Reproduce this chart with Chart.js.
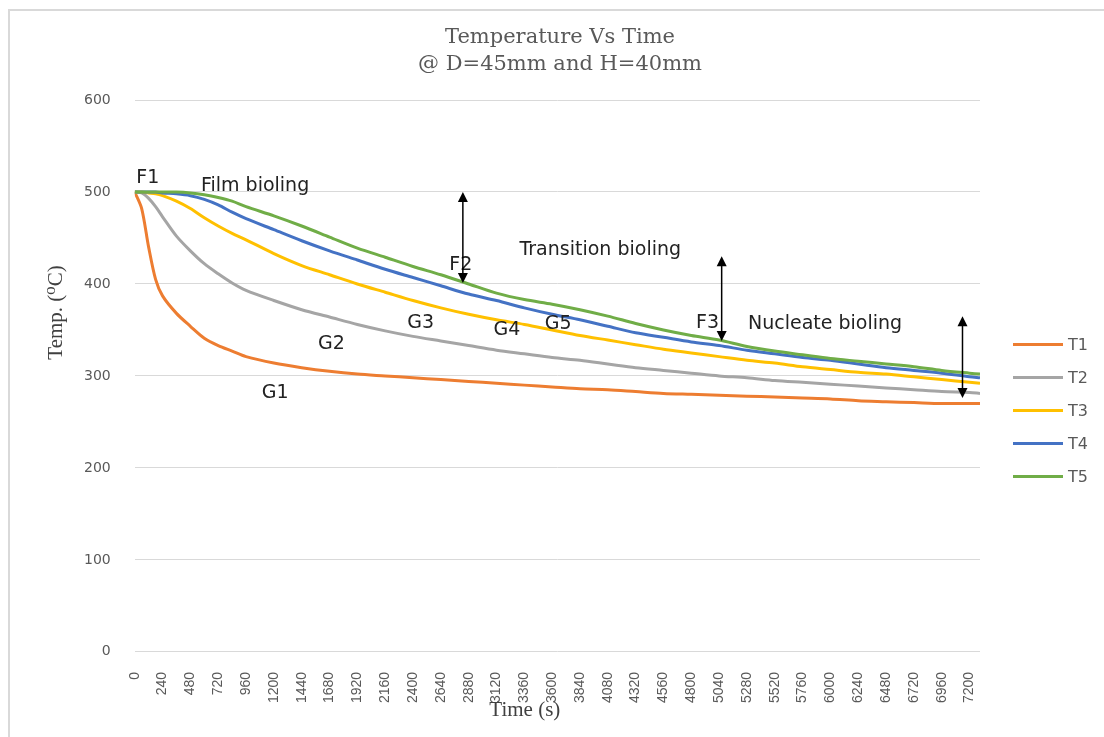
<!DOCTYPE html>
<html>
<head>
<meta charset="utf-8">
<title>Temperature Vs Time</title>
<script src="https://cdn.jsdelivr.net/npm/chart.js@4.4.1/dist/chart.umd.min.js"></script>
<style>
  html, body { margin: 0; padding: 0; background: #ffffff; }
  #wrap { position: relative; width: 1104px; height: 737px; }
  #legend-container { position: absolute; left: 1013px; top: 328px; }
</style>
</head>
<body>
<div id="wrap">
  <canvas id="chartCanvas"></canvas>
  <div id="legend-container"></div>
</div>
<script>
// tiempo (s) y temperaturas
const times = [0, 60, 120, 180, 240, 360, 480, 600, 720, 840, 960, 1200, 1440, 1680, 1920, 2160, 2400, 2640, 2880, 3120,
  3360, 3600, 3840, 4080, 4320, 4560, 4800, 5040, 5280, 5520, 5760, 6000, 6240, 6480, 6720, 6960, 7200, 7290];

const t1 = [500, 482, 440, 405, 387, 368, 354, 341, 333, 327, 321, 314, 309, 305, 302, 300, 298, 296, 294, 292,
  290, 288, 286, 285, 283, 281, 280, 279, 278, 277, 276, 275, 273, 272, 271, 270, 270, 270];
const t2 = [500, 499, 493, 484, 473, 452, 436, 422, 411, 401, 393, 382, 372, 364, 356, 349, 343, 338, 333, 328,
  324, 320, 317, 313, 309, 306, 303, 300, 298, 295, 293, 291, 289, 287, 285, 283, 282, 281];
const t3 = [500, 500, 499, 498, 496, 490, 482, 472, 463, 455, 448, 433, 420, 410, 400, 391, 382, 374, 367, 361,
  356, 350, 344, 339, 334, 329, 325, 321, 317, 314, 310, 307, 304, 302, 299, 296, 293, 292];
const t4 = [500, 500, 500, 500, 499, 498, 496, 492, 486, 478, 471, 459, 447, 436, 426, 416, 407, 398, 389, 382,
  374, 367, 361, 354, 347, 342, 337, 333, 328, 324, 320, 317, 313, 309, 306, 303, 299, 298];
const t5 = [500, 500, 500, 500, 500, 500, 499, 497, 494, 490, 484, 474, 463, 451, 439, 429, 419, 410, 400, 390,
  383, 378, 372, 365, 357, 350, 344, 339, 332, 327, 323, 319, 316, 313, 310, 306, 303, 302];

const seriesNames = ['T1', 'T2', 'T3', 'T4', 'T5'];
const seriesColors = ['#ED7D31', '#A5A5A5', '#FFC000', '#4472C4', '#70AD47'];

const titleLines = ['Temperature Vs Time', '@ D=45mm and H=40mm'];

// etiquetas de texto sobre el grafico (en unidades de datos: s, grados C)
const noteText = ['F1', 'Film bioling', 'F2', 'Transition bioling', 'G1', 'G2', 'G3', 'G4', 'G5', 'F3', 'Nucleate bioling'];
const noteTime = [112, 1038, 2812, 4015, 1211, 1696, 2466, 3210, 3652, 4941, 5954];
const noteTemp = [515, 506, 421, 437, 281, 335, 357, 350, 356, 357, 356];

// flechas dobles verticales
const arrowTime = [2830, 5062, 7139];
const arrowTop = [500, 430, 365];
const arrowBottom = [401, 338, 276];

const toPoints = (vals) => vals.map((v, i) => ({x: times[i], y: v}));

const datasets = [t1, t2, t3, t4, t5].map((vals, i) => ({
  label: seriesNames[i],
  data: toPoints(vals),
  borderColor: seriesColors[i],
  backgroundColor: seriesColors[i],
  borderWidth: 3,
  pointRadius: 0,
  tension: 0.3,
  fill: false,
  order: 5 - i, // T5 arriba como en Excel
}));

const getOrCreateLegendList = (chart, id) => {
  const legendContainer = document.getElementById(id);
  let listContainer = legendContainer.querySelector('ul');

  if (!listContainer) {
    listContainer = document.createElement('ul');
    listContainer.style.display = 'flex';
    listContainer.style.flexDirection = 'column';
    listContainer.style.listStyle = 'none';
    listContainer.style.margin = 0;
    listContainer.style.padding = 0;
    legendContainer.appendChild(listContainer);
  }
  return listContainer;
};

const htmlLegendPlugin = {
  id: 'htmlLegend',
  afterUpdate(chart, args, options) {
    const ul = getOrCreateLegendList(chart, options.containerID);

    while (ul.firstChild) {
      ul.firstChild.remove();
    }

    const items = chart.options.plugins.legend.labels.generateLabels(chart);
    items.sort((a, b) => a.datasetIndex - b.datasetIndex);

    items.forEach(item => {
      const li = document.createElement('li');
      li.style.alignItems = 'center';
      li.style.display = 'flex';
      li.style.flexDirection = 'row';
      li.style.height = '33px';

      // linea de color
      const boxSpan = document.createElement('span');
      boxSpan.style.background = item.strokeStyle;
      boxSpan.style.display = 'inline-block';
      boxSpan.style.flexShrink = 0;
      boxSpan.style.height = '3px';
      boxSpan.style.width = '50px';
      boxSpan.style.marginRight = '5px';

      const textContainer = document.createElement('p');
      textContainer.style.color = '#595959';
      textContainer.style.margin = 0;
      textContainer.style.padding = 0;
      textContainer.style.font = '16px "DejaVu Sans", sans-serif';
      textContainer.appendChild(document.createTextNode(item.text));

      li.appendChild(boxSpan);
      li.appendChild(textContainer);
      ul.appendChild(li);
    });
  }
};

const extrasPlugin = {
  id: 'extras',
  beforeDraw(chart) {
    const ctx = chart.ctx;
    ctx.save();
    ctx.fillStyle = '#ffffff';
    ctx.fillRect(0, 0, chart.width, chart.height);
    // marco del grafico
    ctx.strokeStyle = '#d9d9d9';
    ctx.lineWidth = 2;
    ctx.strokeRect(9, 10, chart.width + 10, chart.height + 10);

    // titulo (centrado como en la hoja original, no sobre el area)
    ctx.fillStyle = '#595959';
    ctx.font = '21px "DejaVu Serif", "Liberation Serif", serif';
    ctx.textAlign = 'center';
    ctx.textBaseline = 'middle';
    titleLines.forEach((line, i) => {
      ctx.fillText(line, chart.width / 2 + 8, 38 + i * 27);
    });
    ctx.restore();
  },
  afterDatasetsDraw(chart) {
    const ctx = chart.ctx;
    const xs = chart.scales.x;
    const ys = chart.scales.y;
    const area = chart.chartArea;
    ctx.save();

    // textos
    ctx.fillStyle = '#222222';
    ctx.font = '19px "DejaVu Sans", sans-serif';
    ctx.textAlign = 'center';
    ctx.textBaseline = 'middle';
    noteText.forEach((txt, i) => {
      ctx.fillText(txt, xs.getPixelForValue(noteTime[i]), ys.getPixelForValue(noteTemp[i]));
    });

    // flechas
    ctx.strokeStyle = '#000000';
    ctx.fillStyle = '#000000';
    ctx.lineWidth = 1.5;
    arrowTime.forEach((t, i) => {
      const x = xs.getPixelForValue(t);
      const y0 = ys.getPixelForValue(arrowTop[i]);
      const y1 = ys.getPixelForValue(arrowBottom[i]);
      ctx.beginPath();
      ctx.moveTo(x, y0 + 8);
      ctx.lineTo(x, y1 - 8);
      ctx.stroke();
      ctx.beginPath();
      ctx.moveTo(x, y0);
      ctx.lineTo(x - 5, y0 + 10);
      ctx.lineTo(x + 5, y0 + 10);
      ctx.closePath();
      ctx.fill();
      ctx.beginPath();
      ctx.moveTo(x, y1);
      ctx.lineTo(x - 5, y1 - 10);
      ctx.lineTo(x + 5, y1 - 10);
      ctx.closePath();
      ctx.fill();
    });

    // titulos de ejes
    ctx.fillStyle = '#404040';
    ctx.font = '21px "Liberation Serif", "DejaVu Serif", serif';
    ctx.textAlign = 'center';
    ctx.textBaseline = 'middle';
    ctx.fillText('Time (s)', area.left + (area.right - area.left) * 0.4615, area.bottom + 59);

    ctx.translate(area.left - 78, area.top + (area.bottom - area.top) * 0.385);
    ctx.rotate(-Math.PI / 2);
    ctx.fillText('Temp. (\u2070C)', 0, 0);
    ctx.restore();
  }
};

const ctx = document.getElementById('chartCanvas').getContext('2d');

const chart = new Chart(ctx, {
  type: 'line',
  data: { datasets: datasets },
  plugins: [extrasPlugin, htmlLegendPlugin],
  options: {
    responsive: true,
    maintainAspectRatio: false,
    animation: false,
    layout: {
      padding: {top: 100, left: 60, right: 124, bottom: 22}
    },
    scales: {
      x: {
        type: 'linear',
        min: 0,
        max: 7290,
        grid: { display: false },
        border: { display: false },
        ticks: {
          stepSize: 240,
          includeBounds: false,
          autoSkip: false,
          minRotation: 90,
          maxRotation: 90,
          padding: 12,
          color: '#595959',
          font: { family: '"Liberation Sans", Arial, sans-serif', size: 14 },
          callback: (value) => String(value)
        }
      },
      y: {
        min: 0,
        max: 600,
        grid: { color: '#d9d9d9', lineWidth: 1, drawTicks: false },
        border: { display: false },
        ticks: {
          stepSize: 100,
          padding: 24,
          color: '#595959',
          font: { family: '"DejaVu Sans", sans-serif', size: 14 }
        }
      }
    },
    plugins: {
      title: { display: false },
      htmlLegend: {
        containerID: 'legend-container'
      },
      legend: { display: false },
      tooltip: { enabled: false }
    }
  }
});
</script>
</body>
</html>
